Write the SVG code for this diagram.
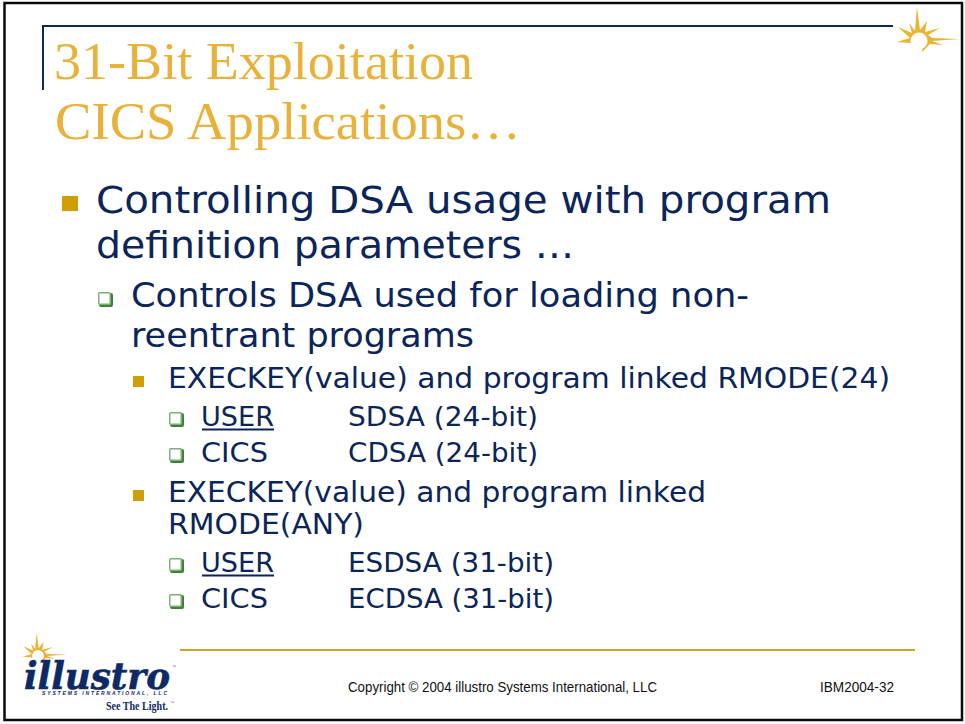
<svg xmlns="http://www.w3.org/2000/svg" width="965" height="724" viewBox="0 0 965 724">
<style>
.t{font-family:"Liberation Serif","DejaVu Serif",serif;font-size:52px;fill:#e8b23a}
.b{font-family:"DejaVu Sans",Verdana,sans-serif;fill:#0b2558}
.l1{font-size:38px}.l2{font-size:33px}.l3{font-size:29px}.l4{font-size:27px}
.f{font-family:"Liberation Sans",Arial,sans-serif;font-size:14px;fill:#111}
.sq{fill:#cf9d05}
.hb{fill:#fff;stroke:#7fae7b;stroke-width:1.500}
.hs{fill:#3c8433}
.sun{fill:#ecb233}
</style>
<defs>
<g id="hollow"><rect class="hs" x="1" y="1" width="14" height="14" rx="2"/><rect class="hb" x="0.750" y="0.750" width="11.500" height="11.500" rx="1"/></g>
<g id="star">
<polygon class="sun" points="-22,1 -9,-3 -21,-14 -7,-8 -10,-18 -4,-10 -2,-34 1,-11 8,-20 6,-9 21,-13 9,-6 13,-3 41,-2 13,0 24,4 11,3 3,11 4,2 -8,2"/>
<circle cx="0" cy="0" r="8.500" fill="#fff"/>
</g>
</defs>
<rect width="965" height="724" fill="#fff"/>
<rect id="frame" x="4.500" y="3" width="957.500" height="717" fill="none" stroke="#0a0a0a" stroke-width="2.500"/>
<g id="decor">
<path d="M43 90V26H893" fill="none" stroke="#12294f" stroke-width="2"/>
<path d="M180 650H915" fill="none" stroke="#d2a32a" stroke-width="2"/>
<use href="#star" transform="translate(919,41)"/>
<use href="#star" transform="translate(38,656) scale(.7)"/>
</g>
<g id="title">
<text class="t" x="54" y="79" textLength="419" lengthAdjust="spacingAndGlyphs">31-Bit Exploitation</text>
<text class="t" x="55" y="139" textLength="466" lengthAdjust="spacingAndGlyphs">CICS Applications…</text>
</g>
<g id="body">
<rect class="sq" x="62" y="196" width="16" height="15"/>
<text class="b l1" x="96" y="213" textLength="735" lengthAdjust="spacingAndGlyphs">Controlling DSA usage with program</text>
<text class="b l1" x="96" y="258" textLength="478" lengthAdjust="spacingAndGlyphs">definition parameters …</text>
<use href="#hollow" x="98" y="292"/>
<text class="b l2" x="131" y="307" textLength="618" lengthAdjust="spacingAndGlyphs">Controls DSA used for loading non-</text>
<text class="b l2" x="131" y="347" textLength="343" lengthAdjust="spacingAndGlyphs">reentrant programs</text>
<rect class="sq" x="133" y="376" width="11" height="11"/>
<text class="b l3" x="168" y="388" textLength="722" lengthAdjust="spacingAndGlyphs">EXECKEY(value) and program linked RMODE(24)</text>
<use href="#hollow" x="169" y="412"/>
<text class="b l4" x="201" y="426" textLength="73" lengthAdjust="spacingAndGlyphs">USER</text>
<rect class="b" x="202" y="428.500" width="72" height="2"/>
<text class="b l4" x="348" y="426" textLength="190" lengthAdjust="spacingAndGlyphs">SDSA (24-bit)</text>
<use href="#hollow" x="169" y="448"/>
<text class="b l4" x="201" y="462" textLength="67" lengthAdjust="spacingAndGlyphs">CICS</text>
<text class="b l4" x="348" y="462" textLength="190" lengthAdjust="spacingAndGlyphs">CDSA (24-bit)</text>
<rect class="sq" x="133" y="490" width="11" height="11"/>
<text class="b l3" x="168" y="502" textLength="538" lengthAdjust="spacingAndGlyphs">EXECKEY(value) and program linked</text>
<text class="b l3" x="168" y="534" textLength="196" lengthAdjust="spacingAndGlyphs">RMODE(ANY)</text>
<use href="#hollow" x="169" y="558"/>
<text class="b l4" x="201" y="572" textLength="73" lengthAdjust="spacingAndGlyphs">USER</text>
<rect class="b" x="202" y="574.500" width="72" height="2"/>
<text class="b l4" x="348" y="572" textLength="206" lengthAdjust="spacingAndGlyphs">ESDSA (31-bit)</text>
<use href="#hollow" x="169" y="594"/>
<text class="b l4" x="201" y="608" textLength="67" lengthAdjust="spacingAndGlyphs">CICS</text>
<text class="b l4" x="348" y="608" textLength="206" lengthAdjust="spacingAndGlyphs">ECDSA (31-bit)</text>
</g>
<g id="footer">
<text class="f" x="348" y="692" textLength="309" lengthAdjust="spacingAndGlyphs">Copyright © 2004 illustro Systems International, LLC</text>
<text class="f" x="820" y="692" textLength="74" lengthAdjust="spacingAndGlyphs">IBM2004-32</text>
</g>
<g id="logo">
<text x="24" y="689" font-family="'DejaVu Serif',serif" font-weight="700" font-style="italic" font-size="38" fill="#0e2a66" stroke="#0e2a66" stroke-width=".6" textLength="146" lengthAdjust="spacingAndGlyphs">illustro</text>
<text x="172" y="668" font-family="'Liberation Sans',sans-serif" font-size="4" fill="#556">™</text>
<text x="42" y="695" font-family="'Liberation Sans',sans-serif" font-weight="700" font-style="italic" font-size="5" fill="#0e2a66" textLength="125" lengthAdjust="spacing">SYSTEMS INTERNATIONAL, LLC</text>
<text x="106" y="710" font-family="'Liberation Serif',serif" font-weight="700" font-size="12" fill="#0e2a66" textLength="62" lengthAdjust="spacingAndGlyphs">See The Light.</text>
<text x="170" y="704" font-family="'Liberation Sans',sans-serif" font-size="4" fill="#556">™</text>
</g>
</svg>
